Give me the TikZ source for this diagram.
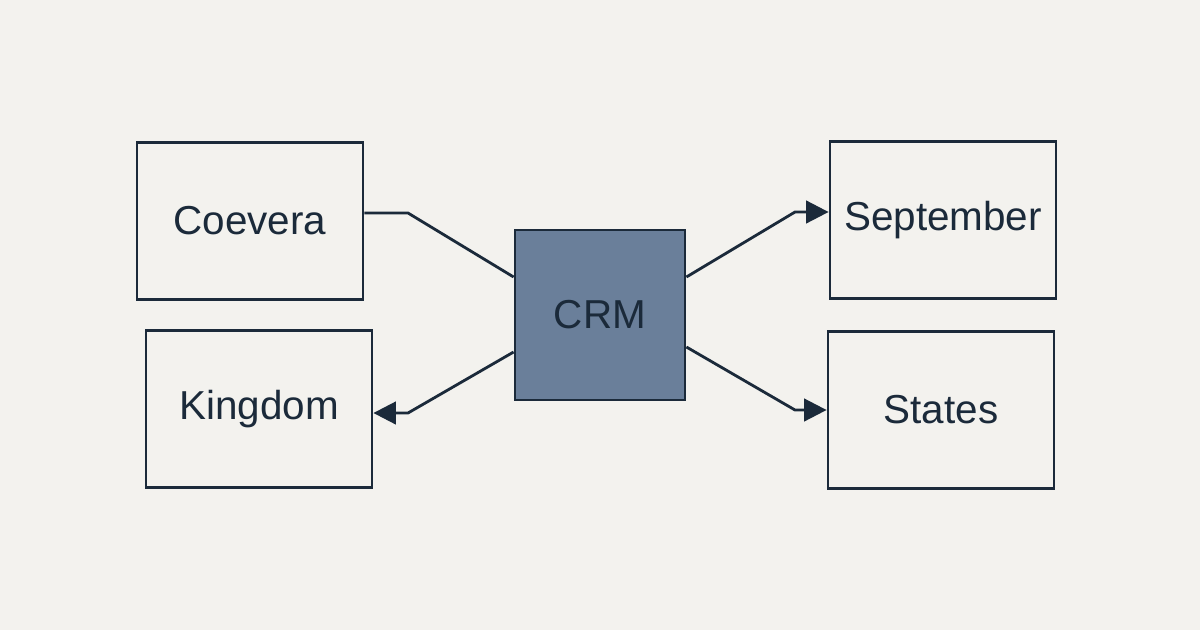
\documentclass[tikz,border=0pt]{standalone}
\usepackage{fontspec}
\setmainfont{Liberation Sans}
\usetikzlibrary{arrows.meta}
\definecolor{ink}{HTML}{1B2A3A}
\definecolor{crmfill}{HTML}{6A7F9A}
\definecolor{paper}{HTML}{F3F2EE}

\begin{document}
\begin{tikzpicture}[auto]
            \fill[paper] (0,0) rectangle (24,12.6);
            \useasboundingbox (0,0) rectangle (24,12.6);
            \begin{scope}[every node/.style={rectangle,draw=ink,line width=1.6pt,text=ink,font=\fontsize{23}{27}\selectfont,minimum width=4.52cm,minimum height=3.14cm}]
                \node (coevera) at (5.0,8.18) {Coevera};
                \node (kingdom) at (5.18,4.42) {Kingdom};
                \node (september) at (18.86,8.2) {September};
                \node (states) at (18.82,4.4) {States};
                \node[fill=crmfill,minimum width=3.4cm,minimum height=3.4cm] (crm) at (12,6.3) {CRM};
            \end{scope}
            \begin{scope}[ink,line width=1.6pt,>={Triangle[length=4.5mm,width=4.5mm]}]
                \coordinate (b1) at (8.16,8.34);
                \coordinate (b2) at (8.16,4.34);
                \coordinate (b3) at (15.9,8.36);
                \coordinate (b4) at (15.9,4.4);
                \draw (coevera.east |- b1) -- (b1) -- (crm.west |- 0,7.06);
                \draw[->] (crm.west |- 0,5.56) -- (b2) -- (kingdom.east |- b2);
                \draw[->] (crm.east |- 0,7.06) -- (b3) -- (september.west |- b3);
                \draw[->] (crm.east |- 0,5.66) -- (b4) -- (states.west |- b4);
            \end{scope}
        \end{tikzpicture}
\end{document}
